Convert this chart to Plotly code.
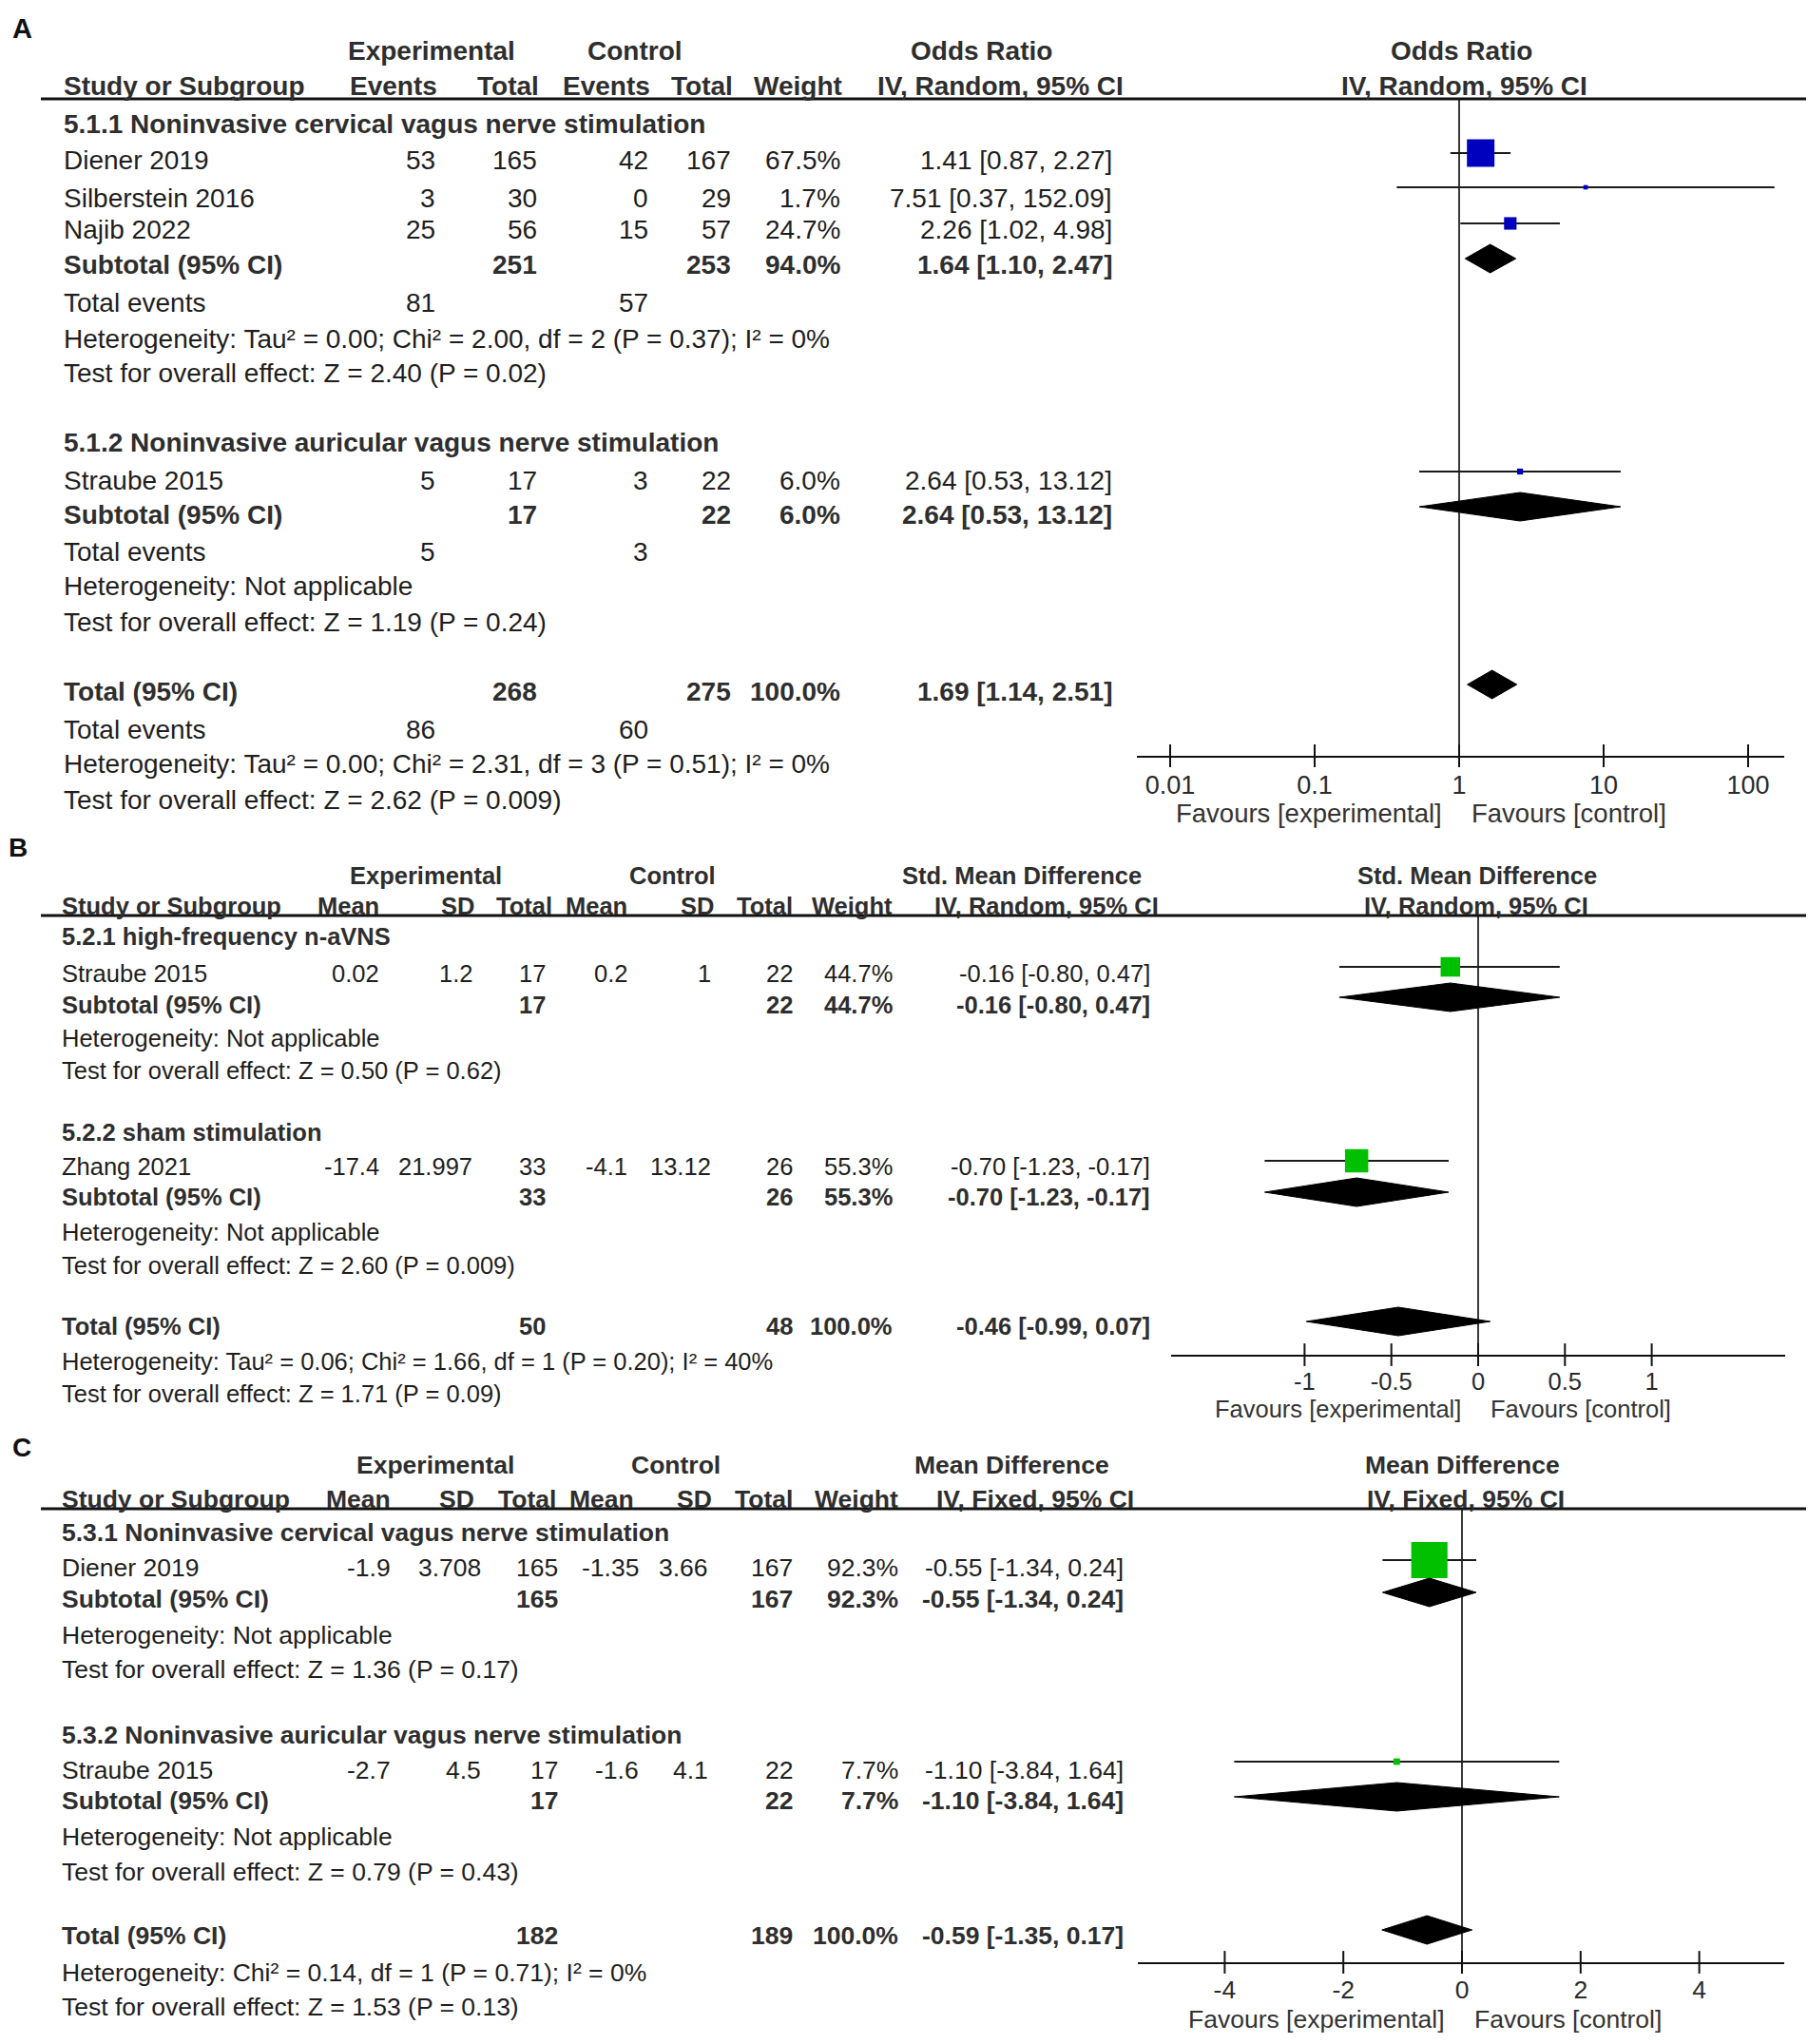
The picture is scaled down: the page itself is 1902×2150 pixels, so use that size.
import numpy as np
import plotly.graph_objects as go

W, H = 1902, 2150
FONT = "Liberation Sans, Arial, Helvetica, sans-serif"
TXT = "#1e1e1e"
HDR = "#2e2e2e"
GRAY = "#3a3a3a"

# ---------------- Panel A data (Odds Ratio) ----------------
a_groups = ["5.1.1 Noninvasive cervical vagus nerve stimulation",
            "5.1.2 Noninvasive auricular vagus nerve stimulation"]
a_studies = ["Diener 2019", "Silberstein 2016", "Najib 2022", "Straube 2015"]
a_exp_events = [53, 3, 25, 5]
a_exp_total = [165, 30, 56, 17]
a_ctl_events = [42, 0, 15, 3]
a_ctl_total = [167, 29, 57, 22]
a_weight = [67.5, 1.7, 24.7, 6.0]
a_or = [1.41, 7.51, 2.26, 2.64]
a_lo = [0.87, 0.37, 1.02, 0.53]
a_hi = [2.27, 152.09, 4.98, 13.12]
a_sub_exp_total = [251, 17]
a_sub_ctl_total = [253, 22]
a_sub_weight = [94.0, 6.0]
a_sub_or = [1.64, 2.64]
a_sub_lo = [1.10, 0.53]
a_sub_hi = [2.47, 13.12]
a_sub_exp_events = [81, 5]
a_sub_ctl_events = [57, 3]
a_sub_het = ["Heterogeneity: Tau² = 0.00; Chi² = 2.00, df = 2 (P = 0.37); I² = 0%",
             "Heterogeneity: Not applicable"]
a_sub_test = ["Test for overall effect: Z = 2.40 (P = 0.02)",
              "Test for overall effect: Z = 1.19 (P = 0.24)"]
a_tot_exp_total, a_tot_ctl_total, a_tot_weight = 268, 275, 100.0
a_tot_or, a_tot_lo, a_tot_hi = 1.69, 1.14, 2.51
a_tot_exp_events, a_tot_ctl_events = 86, 60
a_tot_het = "Heterogeneity: Tau² = 0.00; Chi² = 2.31, df = 3 (P = 0.51); I² = 0%"
a_tot_test = "Test for overall effect: Z = 2.62 (P = 0.009)"
a_ticks = [0.01, 0.1, 1, 10, 100]
a_ticklabels = ["0.01", "0.1", "1", "10", "100"]

# ---------------- Panel B data (Std. Mean Difference) ----------------
b_groups = ["5.2.1 high-frequency n-aVNS", "5.2.2 sham stimulation"]
b_studies = ["Straube 2015", "Zhang 2021"]
b_exp_mean = [0.02, -17.4]
b_exp_sd = [1.2, 21.997]
b_exp_n = [17, 33]
b_ctl_mean = [0.2, -4.1]
b_ctl_sd = [1, 13.12]
b_ctl_n = [22, 26]
b_weight = [44.7, 55.3]
b_est = [-0.16, -0.70]
b_lo = [-0.80, -1.23]
b_hi = [0.47, -0.17]
b_sub_exp_n = [17, 33]
b_sub_ctl_n = [22, 26]
b_sub_weight = [44.7, 55.3]
b_sub_est = [-0.16, -0.70]
b_sub_lo = [-0.80, -1.23]
b_sub_hi = [0.47, -0.17]
b_sub_het = ["Heterogeneity: Not applicable", "Heterogeneity: Not applicable"]
b_sub_test = ["Test for overall effect: Z = 0.50 (P = 0.62)",
              "Test for overall effect: Z = 2.60 (P = 0.009)"]
b_tot_exp_n, b_tot_ctl_n, b_tot_weight = 50, 48, 100.0
b_tot_est, b_tot_lo, b_tot_hi = -0.46, -0.99, 0.07
b_tot_het = "Heterogeneity: Tau² = 0.06; Chi² = 1.66, df = 1 (P = 0.20); I² = 40%"
b_tot_test = "Test for overall effect: Z = 1.71 (P = 0.09)"
b_ticks = [-1, -0.5, 0, 0.5, 1]
b_ticklabels = ["-1", "-0.5", "0", "0.5", "1"]

# ---------------- Panel C data (Mean Difference) ----------------
c_groups = ["5.3.1 Noninvasive cervical vagus nerve stimulation",
            "5.3.2 Noninvasive auricular vagus nerve stimulation"]
c_studies = ["Diener 2019", "Straube 2015"]
c_exp_mean = [-1.9, -2.7]
c_exp_sd = [3.708, 4.5]
c_exp_n = [165, 17]
c_ctl_mean = [-1.35, -1.6]
c_ctl_sd = [3.66, 4.1]
c_ctl_n = [167, 22]
c_weight = [92.3, 7.7]
c_est = [-0.55, -1.10]
c_lo = [-1.34, -3.84]
c_hi = [0.24, 1.64]
c_sub_exp_n = [165, 17]
c_sub_ctl_n = [167, 22]
c_sub_weight = [92.3, 7.7]
c_sub_est = [-0.55, -1.10]
c_sub_lo = [-1.34, -3.84]
c_sub_hi = [0.24, 1.64]
c_sub_het = ["Heterogeneity: Not applicable", "Heterogeneity: Not applicable"]
c_sub_test = ["Test for overall effect: Z = 1.36 (P = 0.17)",
              "Test for overall effect: Z = 0.79 (P = 0.43)"]
c_tot_exp_n, c_tot_ctl_n, c_tot_weight = 182, 189, 100.0
c_tot_est, c_tot_lo, c_tot_hi = -0.59, -1.35, 0.17
c_tot_het = "Heterogeneity: Chi² = 0.14, df = 1 (P = 0.71); I² = 0%"
c_tot_test = "Test for overall effect: Z = 1.53 (P = 0.13)"
c_ticks = [-4, -2, 0, 2, 4]
c_ticklabels = ["-4", "-2", "0", "2", "4"]

# ---------------- helpers ----------------
fig = go.Figure()
annotations = []
shapes = []


def px(x):
    return x / W


def py(y):
    return 1 - y / H


def text(x, y, s, size, anchor="left", bold=False, color=TXT):
    annotations.append(dict(
        x=px(x), y=py(y), xref="paper", yref="paper",
        text=f"<b>{s}</b>" if bold else s, showarrow=False,
        xanchor=anchor, yanchor="middle", borderpad=0,
        font=dict(family=FONT, size=size, color=color)))


def hline(y, x0=43, x1=1900, width=3):
    shapes.append(dict(type="line", xref="paper", yref="paper",
                       x0=px(x0), x1=px(x1), y0=py(y), y1=py(y),
                       line=dict(color="#111111", width=width)))


def fmt_ci(e, lo, hi):
    return f"{e:.2f} [{lo:.2f}, {hi:.2f}]"


def fmt_w(w):
    return f"{w:.1f}%"


def g(v):
    return f"{v:g}"


def box_size(w):
    return 4 + 0.37 * w


def add_panel_marks(ax, est, lo, hi, weights, mark_y, sub_est, sub_lo, sub_hi, sub_y,
                    tot, tot_y, null, top_y, axis_y, ticks, color, half_h=15):
    xa = "x" if ax == 1 else f"x{ax}"
    ya = "y" if ax == 1 else f"y{ax}"
    # null line
    fig.add_trace(go.Scatter(x=[null, null], y=[top_y, axis_y], mode="lines",
                             line=dict(color=GRAY, width=2), xaxis=xa, yaxis=ya,
                             hoverinfo="skip", showlegend=False, cliponaxis=False))
    # confidence intervals
    xs, ys = [], []
    for l, h, yy in zip(lo, hi, mark_y):
        xs += [l, h, None]
        ys += [yy, yy, None]
    fig.add_trace(go.Scatter(x=xs, y=ys, mode="lines", line=dict(color="#1a1a1a", width=2),
                             xaxis=xa, yaxis=ya, hoverinfo="skip", showlegend=False,
                             cliponaxis=False))
    # squares
    fig.add_trace(go.Scatter(x=est, y=mark_y, mode="markers",
                             marker=dict(symbol="square", color=color, opacity=1,
                                         size=[box_size(w) for w in weights],
                                         line=dict(width=0)),
                             xaxis=xa, yaxis=ya, hoverinfo="skip", showlegend=False,
                             cliponaxis=False))
    # diamonds
    dia = list(zip(sub_est, sub_lo, sub_hi, sub_y)) + [(tot[0], tot[1], tot[2], tot_y)]
    for e, l, h, yy in dia:
        fig.add_trace(go.Scatter(x=[l, e, h, e, l], y=[yy, yy - half_h, yy, yy + half_h, yy],
                                 mode="lines", fill="toself", fillcolor="#000000",
                                 line=dict(color="#000000", width=1),
                                 xaxis=xa, yaxis=ya, hoverinfo="skip", showlegend=False,
                                 cliponaxis=False))
    # crossing tick marks
    fig.add_trace(go.Scatter(x=ticks, y=[axis_y] * len(ticks), mode="markers",
                             marker=dict(symbol="line-ns", size=17,
                                         line=dict(color="#111111", width=2)),
                             xaxis=xa, yaxis=ya, hoverinfo="skip", showlegend=False,
                             cliponaxis=False))


# =============== PANEL A ===============
FA = 28
AC = dict(lab=66, c1=459, c2=566, c3=683, c4=770, wt=885, ci=1171)
text(12, 30, "A", 29, bold=True, color="#111")
text(454, 54, "Experimental", FA, "center", True, HDR)
text(668, 54, "Control", FA, "center", True, HDR)
text(1032, 54, "Odds Ratio", FA, "center", True, HDR)
text(1537, 54, "Odds Ratio", FA, "center", True, HDR)
text(AC["lab"], 91, "Study or Subgroup", FA, "left", True, HDR)
for key, s in [("c1", "Events"), ("c2", "Total"), ("c3", "Events"), ("c4", "Total"), ("wt", "Weight")]:
    text(AC[key] + 2, 91, s, FA, "right", True, HDR)
text(1052, 91, "IV, Random, 95% CI", FA, "center", True, HDR)
text(1540, 91, "IV, Random, 95% CI", FA, "center", True, HDR)
hline(104)

a_title_y = [130, 466]
a_study_y = [168, 209, 242, 505]
a_study_my = [161, 197, 235, 496]
a_sub_y = [279, 541]
a_sub_my = [272, 533]
a_ev_y = [318, 580]
a_het_y = [356, 617]
a_test_y = [393, 654]

for gi in range(2):
    text(AC["lab"], a_title_y[gi], a_groups[gi], FA, "left", True, HDR)
for i, s in enumerate(a_studies):
    y = a_study_y[i]
    text(AC["lab"], y, s, FA)
    text(AC["c1"], y, str(a_exp_events[i]), FA, "right")
    text(AC["c2"], y, str(a_exp_total[i]), FA, "right")
    text(AC["c3"], y, str(a_ctl_events[i]), FA, "right")
    text(AC["c4"], y, str(a_ctl_total[i]), FA, "right")
    text(AC["wt"], y, fmt_w(a_weight[i]), FA, "right")
    text(AC["ci"], y, fmt_ci(a_or[i], a_lo[i], a_hi[i]), FA, "right")
for gi in range(2):
    y = a_sub_y[gi]
    text(AC["lab"], y, "Subtotal (95% CI)", FA, "left", True, HDR)
    text(AC["c2"], y, str(a_sub_exp_total[gi]), FA, "right", True, HDR)
    text(AC["c4"], y, str(a_sub_ctl_total[gi]), FA, "right", True, HDR)
    text(AC["wt"], y, fmt_w(a_sub_weight[gi]), FA, "right", True, HDR)
    text(AC["ci"], y, fmt_ci(a_sub_or[gi], a_sub_lo[gi], a_sub_hi[gi]), FA, "right", True, HDR)
    text(AC["lab"], a_ev_y[gi], "Total events", FA)
    text(AC["c1"], a_ev_y[gi], str(a_sub_exp_events[gi]), FA, "right")
    text(AC["c3"], a_ev_y[gi], str(a_sub_ctl_events[gi]), FA, "right")
    text(AC["lab"], a_het_y[gi], a_sub_het[gi], FA)
    text(AC["lab"], a_test_y[gi], a_sub_test[gi], FA)
y = 727
text(AC["lab"], y, "Total (95% CI)", FA, "left", True, HDR)
text(AC["c2"], y, str(a_tot_exp_total), FA, "right", True, HDR)
text(AC["c4"], y, str(a_tot_ctl_total), FA, "right", True, HDR)
text(AC["wt"], y, fmt_w(a_tot_weight), FA, "right", True, HDR)
text(AC["ci"], y, fmt_ci(a_tot_or, a_tot_lo, a_tot_hi), FA, "right", True, HDR)
text(AC["lab"], 767, "Total events", FA)
text(AC["c1"], 767, str(a_tot_exp_events), FA, "right")
text(AC["c3"], 767, str(a_tot_ctl_events), FA, "right")
text(AC["lab"], 804, a_tot_het, FA)
text(AC["lab"], 841, a_tot_test, FA)

add_panel_marks(1, a_or, a_lo, a_hi, a_weight, a_study_my, a_sub_or, a_sub_lo, a_sub_hi,
                a_sub_my, (a_tot_or, a_tot_lo, a_tot_hi), 720, 1, 104, 795, a_ticks,
                "#0000bf")

# =============== PANEL B ===============
FB = 25.5
BC = dict(lab=64, m1=400, s1=498, n1=575, m2=661, s2=749, n2=835, wt=940, ci=1211)
text(8, 891, "B", 28, bold=True, color="#111")
text(448, 921, "Experimental", FB, "center", True, HDR)
text(707, 921, "Control", FB, "center", True, HDR)
text(1075, 921, "Std. Mean Difference", FB, "center", True, HDR)
text(1554, 921, "Std. Mean Difference", FB, "center", True, HDR)
text(BC["lab"], 953, "Study or Subgroup", FB, "left", True, HDR)
for xr, s in [(400, "Mean"), (500, "SD"), (582, "Total"), (661, "Mean"), (752, "SD"),
              (835, "Total"), (940, "Weight")]:
    text(xr, 953, s, FB, "right", True, HDR)
text(1101, 953, "IV, Random, 95% CI", FB, "center", True, HDR)
text(1553, 953, "IV, Random, 95% CI", FB, "center", True, HDR)
hline(963)

b_title_y = [985, 1191]
b_study_y = [1024, 1227]
b_study_my = [1017, 1221]
b_sub_y = [1057, 1259]
b_sub_my = [1049, 1254]
b_het_y = [1092, 1296]
b_test_y = [1126, 1331]
for gi in range(2):
    text(BC["lab"], b_title_y[gi], b_groups[gi], FB, "left", True, HDR)
    y = b_study_y[gi]
    text(BC["lab"], y, b_studies[gi], FB)
    text(BC["m1"], y, g(b_exp_mean[gi]), FB, "right")
    text(BC["s1"], y, g(b_exp_sd[gi]), FB, "right")
    text(BC["n1"], y, str(b_exp_n[gi]), FB, "right")
    text(BC["m2"], y, g(b_ctl_mean[gi]), FB, "right")
    text(BC["s2"], y, g(b_ctl_sd[gi]), FB, "right")
    text(BC["n2"], y, str(b_ctl_n[gi]), FB, "right")
    text(BC["wt"], y, fmt_w(b_weight[gi]), FB, "right")
    text(BC["ci"], y, fmt_ci(b_est[gi], b_lo[gi], b_hi[gi]), FB, "right")
    y = b_sub_y[gi]
    text(BC["lab"], y, "Subtotal (95% CI)", FB, "left", True, HDR)
    text(BC["n1"], y, str(b_sub_exp_n[gi]), FB, "right", True, HDR)
    text(BC["n2"], y, str(b_sub_ctl_n[gi]), FB, "right", True, HDR)
    text(BC["wt"], y, fmt_w(b_sub_weight[gi]), FB, "right", True, HDR)
    text(BC["ci"], y, fmt_ci(b_sub_est[gi], b_sub_lo[gi], b_sub_hi[gi]), FB, "right", True, HDR)
    text(BC["lab"], b_het_y[gi], b_sub_het[gi], FB)
    text(BC["lab"], b_test_y[gi], b_sub_test[gi], FB)
y = 1395
text(BC["lab"], y, "Total (95% CI)", FB, "left", True, HDR)
text(BC["n1"], y, str(b_tot_exp_n), FB, "right", True, HDR)
text(BC["n2"], y, str(b_tot_ctl_n), FB, "right", True, HDR)
text(BC["wt"], y, fmt_w(b_tot_weight), FB, "right", True, HDR)
text(BC["ci"], y, fmt_ci(b_tot_est, b_tot_lo, b_tot_hi), FB, "right", True, HDR)
text(BC["lab"], 1432, b_tot_het, FB)
text(BC["lab"], 1466, b_tot_test, FB)

add_panel_marks(2, b_est, b_lo, b_hi, b_weight, b_study_my, b_sub_est, b_sub_lo, b_sub_hi,
                b_sub_my, (b_tot_est, b_tot_lo, b_tot_hi), 1390, 0, 963, 1425, b_ticks,
                "#00c000")

# =============== PANEL C ===============
FC = 26.5
CC = dict(lab=64, m1=412, s1=507, n1=588, m2=673, s2=746, n2=835, wt=946, ci=1183)
text(12, 1522, "C", 28, bold=True, color="#111")
text(458, 1541, "Experimental", FC, "center", True, HDR)
text(711, 1541, "Control", FC, "center", True, HDR)
text(1064, 1541, "Mean Difference", FC, "center", True, HDR)
text(1538, 1541, "Mean Difference", FC, "center", True, HDR)
text(CC["lab"], 1577, "Study or Subgroup", FC, "left", True, HDR)
for xr, s in [(412, "Mean"), (500, "SD"), (586, "Total"), (668, "Mean"), (750, "SD"),
              (835, "Total"), (946, "Weight")]:
    text(xr, 1577, s, FC, "right", True, HDR)
text(1089, 1577, "IV, Fixed, 95% CI", FC, "center", True, HDR)
text(1542, 1577, "IV, Fixed, 95% CI", FC, "center", True, HDR)
hline(1587)

c_title_y = [1612, 1825]
c_study_y = [1649, 1862]
c_study_my = [1641, 1853]
c_sub_y = [1682, 1894]
c_sub_my = [1675, 1890]
c_het_y = [1720, 1932]
c_test_y = [1756, 1969]
for gi in range(2):
    text(CC["lab"], c_title_y[gi], c_groups[gi], FC, "left", True, HDR)
    y = c_study_y[gi]
    text(CC["lab"], y, c_studies[gi], FC)
    text(CC["m1"], y, g(c_exp_mean[gi]), FC, "right")
    text(CC["s1"], y, g(c_exp_sd[gi]), FC, "right")
    text(CC["n1"], y, str(c_exp_n[gi]), FC, "right")
    text(CC["m2"], y, g(c_ctl_mean[gi]), FC, "right")
    text(CC["s2"], y, g(c_ctl_sd[gi]), FC, "right")
    text(CC["n2"], y, str(c_ctl_n[gi]), FC, "right")
    text(CC["wt"], y, fmt_w(c_weight[gi]), FC, "right")
    text(CC["ci"], y, fmt_ci(c_est[gi], c_lo[gi], c_hi[gi]), FC, "right")
    y = c_sub_y[gi]
    text(CC["lab"], y, "Subtotal (95% CI)", FC, "left", True, HDR)
    text(CC["n1"], y, str(c_sub_exp_n[gi]), FC, "right", True, HDR)
    text(CC["n2"], y, str(c_sub_ctl_n[gi]), FC, "right", True, HDR)
    text(CC["wt"], y, fmt_w(c_sub_weight[gi]), FC, "right", True, HDR)
    text(CC["ci"], y, fmt_ci(c_sub_est[gi], c_sub_lo[gi], c_sub_hi[gi]), FC, "right", True, HDR)
    text(CC["lab"], c_het_y[gi], c_sub_het[gi], FC)
    text(CC["lab"], c_test_y[gi], c_sub_test[gi], FC)
y = 2036
text(CC["lab"], y, "Total (95% CI)", FC, "left", True, HDR)
text(CC["n1"], y, str(c_tot_exp_n), FC, "right", True, HDR)
text(CC["n2"], y, str(c_tot_ctl_n), FC, "right", True, HDR)
text(CC["wt"], y, fmt_w(c_tot_weight), FC, "right", True, HDR)
text(CC["ci"], y, fmt_ci(c_tot_est, c_tot_lo, c_tot_hi), FC, "right", True, HDR)
text(CC["lab"], 2075, c_tot_het, FC)
text(CC["lab"], 2111, c_tot_test, FC)

add_panel_marks(3, c_est, c_lo, c_hi, c_weight, c_study_my, c_sub_est, c_sub_lo, c_sub_hi,
                c_sub_my, (c_tot_est, c_tot_lo, c_tot_hi), 2030, 0, 1587, 2064, c_ticks,
                "#00c000")


# ---------------- axes ----------------
def xaxis_cfg(x0, x1, rng, ticks, labels, size, log=False, standoff=5):
    return dict(domain=[px(x0), px(x1)], range=rng, type="log" if log else "linear",
                showline=True, linecolor="#111111", linewidth=2, ticks="",
                tickvals=ticks, ticktext=labels, ticklabelstandoff=standoff,
                tickfont=dict(family=FONT, size=size, color="#2a2a2a"),
                showgrid=False, zeroline=False, fixedrange=True)


def yaxis_cfg(top, bottom):
    return dict(domain=[py(bottom), py(top)], range=[bottom, top], visible=False,
                showgrid=False, zeroline=False, fixedrange=True)


# pixel geometry of each forest axis: (null pixel, pixels per unit/decade)
A_NULL, A_DEC = 1535, 152.0
B_NULL, B_UNIT = 1555, 182.6
C_NULL, C_UNIT = 1538, 62.4
fig.update_layout(
    xaxis=xaxis_cfg(1196, 1877, [(1196 - A_NULL) / A_DEC, (1877 - A_NULL) / A_DEC],
                    a_ticks, a_ticklabels, 27, log=True, standoff=6),
    yaxis=yaxis_cfg(104, 795),
    xaxis2=dict(xaxis_cfg(1232, 1878, [(1232 - B_NULL) / B_UNIT, (1878 - B_NULL) / B_UNIT],
                          b_ticks, b_ticklabels, FB, standoff=4), anchor="y2"),
    yaxis2=dict(yaxis_cfg(963, 1425), anchor="x2"),
    xaxis3=dict(xaxis_cfg(1197, 1877, [(1197 - C_NULL) / C_UNIT, (1877 - C_NULL) / C_UNIT],
                          c_ticks, c_ticklabels, FC, standoff=4), anchor="y3"),
    yaxis3=dict(yaxis_cfg(1587, 2064), anchor="x3"),
)

# favours labels (x anchored on each null line, y in page position)
for xr, nullv, yy, size in [("x", 0, 856, 27.5), ("x2", 0, 1482, FB), ("x3", 0, 2124, FC)]:
    annotations.append(dict(x=nullv, y=py(yy), xref=xr, yref="paper",
                            text="Favours [experimental]",
                            showarrow=False, xanchor="right", yanchor="middle", xshift=-16,
                            font=dict(family=FONT, size=size, color="#333333")))
    annotations.append(dict(x=nullv, y=py(yy), xref=xr, yref="paper",
                            text="Favours [control]",
                            showarrow=False, xanchor="left", yanchor="middle", xshift=11,
                            font=dict(family=FONT, size=size, color="#333333")))

fig.update_layout(
    width=W, height=H, margin=dict(l=0, r=0, t=0, b=0),
    paper_bgcolor="white", plot_bgcolor="white",
    annotations=annotations, shapes=shapes, showlegend=False,
    font=dict(family=FONT, color=TXT),
)

fig.write_html("out.html", config={"displayModeBar": False},
               post_script="document.body.style.margin='0';document.body.style.padding='0';")
